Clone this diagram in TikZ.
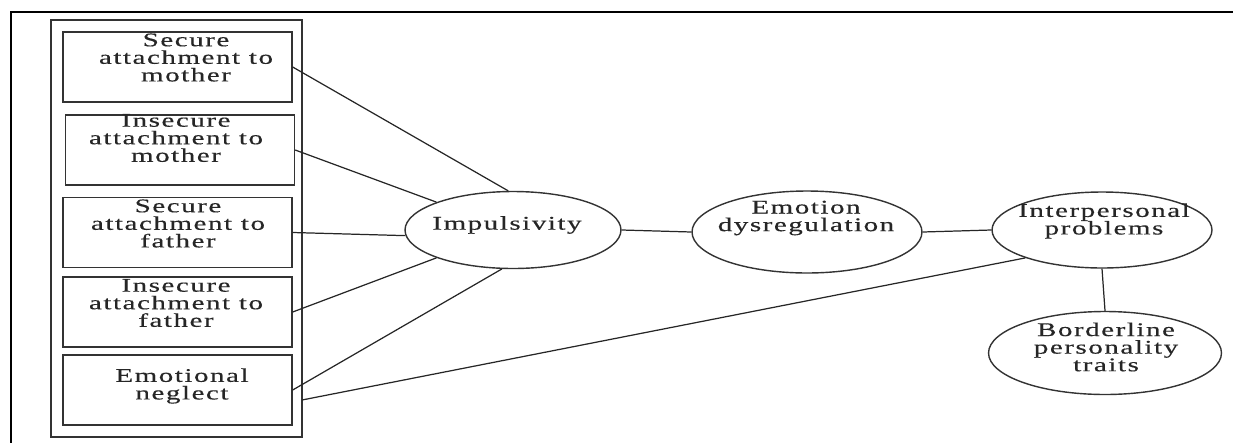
\documentclass[tikz,border=0pt]{standalone}
\usepackage{fontspec}
\newfontfamily\diafont[FakeStretch=1.5,LetterSpace=8,FakeBold=0.4]{Liberation Serif}
\usetikzlibrary{shapes.geometric}

\tikzset{
  box/.style={draw=black!80, line width=0.8pt, minimum width=4.58cm,
    minimum height=1.40cm, inner sep=0pt},
  txt/.style={font=\fontsize{11}{10}\diafont, align=center, inner sep=0pt,
    text=black!85},
  var/.style={draw=black!80, line width=0.8pt, ellipse, inner sep=0pt},
  link/.style={draw=black!85, line width=0.7pt}
}

\begin{document}
\begin{tikzpicture}[x=0.02cm, y=-0.02cm]
  \useasboundingbox (0,0) rectangle (1233,443);
  \draw[line width=1.1pt] (1233,12) -- (11,12) -- (11,443);
  % predictors
  \node[box, minimum width=5.02cm, minimum height=8.34cm] (grp) at (176.5,228.5) {};
  \foreach \n/\x/\y/\tx/\ty/\t in {
      sam/177.5/67/186/57.5/{Secure\\attachment to\\mother},
      iam/180/150/176/138/{Insecure\\attachment to\\mother},
      saf/177.5/232.5/178/223.5/{Secure\\attachment to\\father},
      iaf/177.5/312/176/303/{Insecure\\attachment to\\father},
      en/177.5/390/182/386/{Emotional\\neglect}}
  {
    \node[box] (\n) at (\x,\y) {};
    \node[txt] (\n-txt) at (\tx,\ty) {\t};
  }
  % mediators and outcome
  \node[var, minimum width=4.32cm, minimum height=1.54cm] (imp) at (513,230) {};
  \node[txt] (imp-txt) at (507,225) {Impulsivity};
  \node[var, minimum width=4.60cm, minimum height=1.64cm] (emo) at (807,232) {};
  \node[txt] (emo-txt) at (806,218) {Emotion\\dysregulation};
  \node[var, minimum width=4.40cm, minimum height=1.52cm] (ipp) at (1102,230) {};
  \node[txt] (ipp-txt) at (1104,221) {Interpersonal\\problems};
  \node[var, minimum width=4.66cm, minimum height=1.66cm] (bpt) at (1105,353) {};
  \node[txt] (bpt-txt) at (1106,347) {Borderline\\personality\\traits};
  % paths
  \foreach \n/\a in {sam/97, iam/160, saf/183, iaf/200, en/254}
    \draw[link] (\n.east) -- (imp.\a);
  \draw[link] (imp.east) -- (emo.west);
  \draw[link] (emo.east) -- (ipp.west);
  \draw[link] (ipp.south) -- (bpt.north);
  \coordinate (grp-in) at (302,400);
  \draw[link] (ipp.200) -- (grp-in);
\end{tikzpicture}
\end{document}
